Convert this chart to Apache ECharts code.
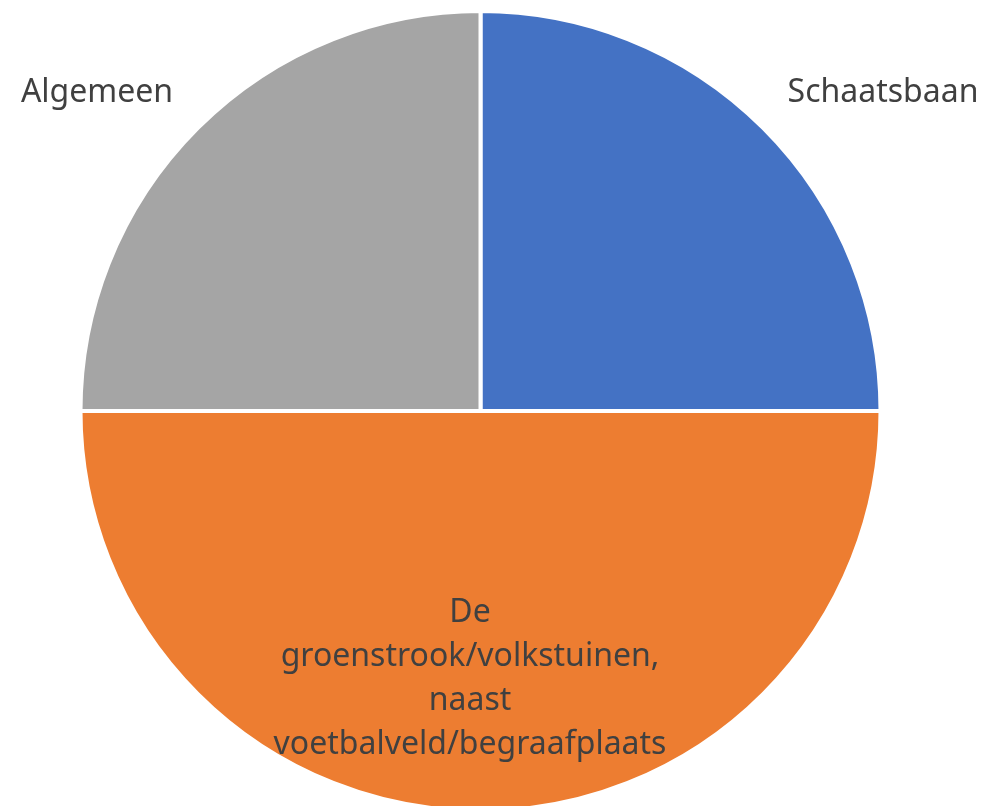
<!DOCTYPE html>
<html>
<head>
<meta charset="utf-8">
<script src="https://cdn.jsdelivr.net/npm/echarts@6/dist/echarts.min.js"></script>
<style>
    html, body { margin: 0; padding: 0; background: #fff; }
    #pie { width: 982px; height: 806px; }
</style>
</head>
<body>
<div id="pie"></div>
<script>
    // data
    var categories = ['Schaatsbaan', 'De\ngroenstrook/volkstuinen,\nnaast\nvoetbalveld/begraafplaats', 'Algemeen'];
    var values = [1, 2, 1];
    var colors = ['#4472C4', '#ED7D31', '#A5A5A5'];
    // where each label sits (Excel-like placement)
    var labelPos = [[883, 93], [470, 679], [97, 93]];

    var myChart = echarts.init(document.getElementById('pie'));
    myChart.setOption({
        animation: false,
        series: [{
            type: 'pie',
            center: [480.5, 411],
            radius: 400,
            startAngle: 90,
            clockwise: true,
            data: categories.map(function (c, i) {
                return { name: c, value: values[i], itemStyle: { color: colors[i] } };
            }),
            itemStyle: { borderColor: '#fff', borderWidth: 4 },
            label: {
                show: true,
                position: 'inside',
                formatter: '{b}',
                color: '#404040',
                fontFamily: 'Noto Sans',
                fontSize: 32,
                lineHeight: 44,
                align: 'center'
            },
            labelLine: { show: false },
            labelLayout: function (params) {
                var p = labelPos[params.dataIndex];
                return { x: p[0], y: p[1], align: 'center', verticalAlign: 'middle' };
            },
            emphasis: { disabled: true }
        }]
    });
</script>
</body>
</html>
